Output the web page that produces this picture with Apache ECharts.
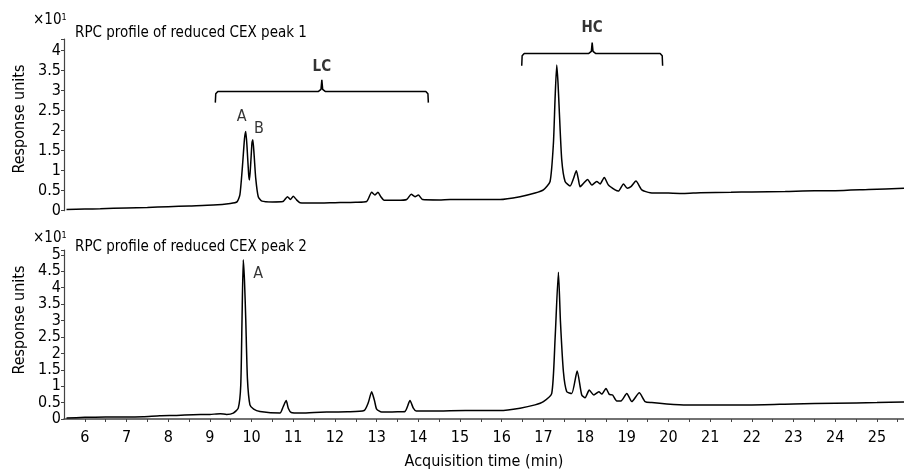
<!DOCTYPE html>
<html><head><meta charset="utf-8">
<script src="https://cdn.jsdelivr.net/npm/echarts@6/dist/echarts.min.js"></script>
<style>html,body{margin:0;padding:0;background:#fff}#c{width:904px;height:471px}</style>
</head><body><div id="c"></div>
<script>
// Top trace: RPC profile of reduced CEX peak 1 (x: min, y: response ×10^1)
const topX = [5.56,6.0,6.37,7.0,7.5,8.0,8.5,9.08,9.49,9.65,9.72,9.78,9.83,9.86,9.89,9.93,9.95,9.98,10.01,10.03,10.06,10.1,10.16,10.25,10.5,10.75,10.86,10.93,11.0,11.08,11.16,11.5,12.0,12.5,12.76,12.88,12.96,13.03,13.1,13.18,13.5,13.72,13.83,13.92,14.0,14.1,14.5,14.76,15.2,15.96,16.44,16.8,17.0,17.16,17.24,17.28,17.32,17.35,17.38,17.44,17.52,17.64,17.72,17.79,17.84,17.88,17.96,18.06,18.16,18.28,18.36,18.46,18.56,18.72,18.8,18.92,19.01,19.1,19.22,19.36,19.56,20.0,20.36,20.76,21.5,22.0,22.8,23.5,24.0,24.8,25.65];
const topY = [0.03,0.04,0.05,0.07,0.08,0.10,0.12,0.14,0.18,0.22,0.4,1.1,1.8,1.98,1.6,0.9,0.77,1.2,1.7,1.77,1.4,0.8,0.35,0.24,0.22,0.23,0.35,0.28,0.36,0.27,0.2,0.19,0.2,0.21,0.23,0.46,0.39,0.46,0.35,0.26,0.26,0.28,0.41,0.35,0.39,0.28,0.27,0.28,0.28,0.28,0.35,0.44,0.52,0.73,1.68,2.8,3.64,3.2,2.52,1.27,0.73,0.62,0.8,1.0,0.78,0.6,0.68,0.78,0.64,0.73,0.67,0.83,0.64,0.52,0.49,0.67,0.56,0.6,0.74,0.52,0.45,0.44,0.43,0.45,0.46,0.47,0.48,0.5,0.5,0.53,0.56];
// Bottom trace: RPC profile of reduced CEX peak 2
const botX = [5.56,6.0,6.5,7.0,7.4,7.8,8.2,8.6,9.0,9.25,9.4,9.56,9.68,9.74,9.77,9.8,9.83,9.86,9.9,9.96,10.05,10.2,10.68,10.76,10.83,10.88,10.95,11.16,11.5,11.8,12.3,12.7,12.8,12.88,12.95,13.0,13.12,13.5,13.68,13.8,13.88,13.95,14.3,14.76,15.5,15.96,16.44,16.8,17.0,17.2,17.28,17.36,17.41,17.48,17.56,17.68,17.81,17.92,18.0,18.1,18.21,18.33,18.4,18.5,18.58,18.66,18.76,18.86,19.0,19.12,19.3,19.44,19.6,19.96,20.44,21.0,21.96,23.0,24.0,25.0,25.65];
const botY = [0.03,0.05,0.06,0.06,0.07,0.1,0.11,0.13,0.14,0.16,0.14,0.18,0.33,1.03,3.0,4.85,4.2,3.04,1.23,0.43,0.3,0.23,0.18,0.38,0.56,0.33,0.2,0.18,0.2,0.21,0.22,0.26,0.5,0.83,0.55,0.3,0.21,0.22,0.23,0.56,0.33,0.24,0.24,0.25,0.26,0.26,0.33,0.43,0.53,0.78,2.44,4.47,2.94,1.44,0.83,0.78,1.46,0.73,0.65,0.88,0.73,0.83,0.76,0.93,0.75,0.73,0.55,0.55,0.78,0.53,0.8,0.53,0.5,0.46,0.43,0.43,0.43,0.46,0.48,0.5,0.52];
// Annotations
const xTickLabels = [6,7,8,9,10,11,12,13,14,15,16,17,18,19,20,21,22,23,24,25];
const lcRange = [9.13, 14.24];
const hcRange = [16.48, 19.86];
const topPeakLabels = [['A', 9.86, 1.98], ['B', 10.03, 1.77]];
const botPeakLabels = [['A', 9.8, 4.85]];

const FONT = "'Liberation Sans Narrow','DejaVu Sans Condensed','Roboto Condensed',sans-serif";
const zip = (xs, ys) => xs.map((x, i) => [x, ys[i]]);

function bracket(r, yBar, yEnd, yTip) {
  const mid = (r[0] + r[1]) / 2;
  const d = 0.08;
  return [[r[0], yEnd], [r[0] + 0.01, yBar - 0.06], [r[0] + 0.06, yBar], [mid - d, yBar], [mid - 0.02, yBar + 0.05], [mid, yTip], [mid + 0.02, yBar + 0.05], [mid + d, yBar], [r[1] - 0.06, yBar], [r[1] - 0.01, yBar - 0.06], [r[1], yEnd]];
}

const chart = echarts.init(document.getElementById('c'));
const axisCommonX = { type: 'value', min: 5.5, max: 25.65, interval: 0.5 };
const yLabel = { fontFamily: FONT, fontSize: 16, color: '#000', margin: 3,
  formatter: v => (Math.abs(v * 2 - Math.round(v * 2)) < 1e-6 ? String(v) : '') };
const lineCol = '#444';

const option = {
  animation: false,
  grid: [
    { left: 64, right: 0, top: 39, height: 171.7 },
    { left: 64, right: 0, top: 250, height: 171 }
  ],
  xAxis: [
    Object.assign({ gridIndex: 0, show: false }, axisCommonX),
    Object.assign({ gridIndex: 1, offset: 5,
      axisLine: { show: true, lineStyle: { color: lineCol, width: 1.5 } },
      axisTick: { show: true, length: 3, lineStyle: { color: lineCol } },
      splitLine: { show: false },
      axisLabel: { fontFamily: FONT, fontSize: 16, color: '#000', margin: 6,
        showMinLabel: false, showMaxLabel: false,
        formatter: v => (xTickLabels.indexOf(Math.round(v * 100) / 100) >= 0 ? String(v) : '') },
      name: 'Acquisition time (min)', nameLocation: 'middle', nameGap: 30,
      nameTextStyle: { fontFamily: FONT, fontSize: 16, color: '#000' }
    }, axisCommonX)
  ],
  yAxis: [
    { gridIndex: 0, type: 'value', min: 0, max: 4.29, interval: 0.5,
      axisLine: { show: true, lineStyle: { color: lineCol, width: 1.2 } },
      axisTick: { show: true, length: 3, lineStyle: { color: lineCol } },
      splitLine: { show: false }, axisLabel: yLabel },
    { gridIndex: 1, type: 'value', min: 0, max: 5.15, interval: 0.5,
      axisLine: { show: true, lineStyle: { color: lineCol, width: 1.2 } },
      axisTick: { show: true, length: 3, lineStyle: { color: lineCol } },
      splitLine: { show: false }, axisLabel: yLabel }
  ],
  series: [
    { type: 'line', xAxisIndex: 0, yAxisIndex: 0, data: zip(topX, topY), showSymbol: false, smooth: 0.2,
      lineStyle: { color: '#000', width: 1.5 }, clip: false },
    { type: 'line', xAxisIndex: 1, yAxisIndex: 1, data: zip(botX, botY), showSymbol: false, smooth: 0.2,
      lineStyle: { color: '#000', width: 1.5 }, clip: false },
    { type: 'line', xAxisIndex: 0, yAxisIndex: 0, data: bracket(lcRange, 2.98, 2.7, 3.27), showSymbol: false,
      lineStyle: { color: '#000', width: 1.5 }, clip: false },
    { type: 'line', xAxisIndex: 0, yAxisIndex: 0, data: bracket(hcRange, 3.93, 3.62, 4.2), showSymbol: false,
      lineStyle: { color: '#000', width: 1.5 }, clip: false },
    { type: 'scatter', xAxisIndex: 0, yAxisIndex: 0, symbolSize: 0, clip: false,
      data: [[(lcRange[0] + lcRange[1]) / 2, 3.6, 'LC'], [(hcRange[0] + hcRange[1]) / 2, 4.56, 'HC']],
      label: { show: true, position: 'inside', formatter: p => p.data[2],
        fontFamily: FONT, fontSize: 15, fontWeight: 'bold', color: '#000' } },
    { type: 'scatter', xAxisIndex: 0, yAxisIndex: 0, symbolSize: 0, clip: false,
      data: topPeakLabels.map(d => [d[1], d[2], d[0]]),
      label: { show: true, position: 'inside', formatter: p => p.data[2],
        fontFamily: FONT, fontSize: 16, color: '#000' },
      labelLayout: p => ({ dx: p.dataIndex === 0 ? -4 : 6, dy: p.dataIndex === 0 ? -15 : -11 }) },
    { type: 'scatter', xAxisIndex: 1, yAxisIndex: 1, symbolSize: 0, clip: false,
      data: botPeakLabels.map(d => [d[1], d[2], d[0]]),
      label: { show: true, position: 'inside', formatter: p => p.data[2],
        fontFamily: FONT, fontSize: 16, color: '#000' },
      labelLayout: () => ({ dx: 15, dy: 14 }) }
  ],
  graphic: [
    { type: 'text', left: 75, top: 26, style: { text: 'RPC profile of reduced CEX peak 1', fontFamily: FONT, fontSize: 15, fill: '#000' } },
    { type: 'text', left: 75, top: 240, style: { text: 'RPC profile of reduced CEX peak 2', fontFamily: FONT, fontSize: 15, fill: '#000' } },
    { type: 'text', left: 33, top: 13, style: { text: '×10{s|1}', fontFamily: FONT, fontSize: 15, fill: '#000',
      rich: { s: { fontSize: 9, verticalAlign: 'top', padding: [0, 0, 6, 0], fontFamily: FONT } } } },
    { type: 'text', left: 33, top: 231, style: { text: '×10{s|1}', fontFamily: FONT, fontSize: 15, fill: '#000',
      rich: { s: { fontSize: 9, verticalAlign: 'top', padding: [0, 0, 6, 0], fontFamily: FONT } } } },
    { type: 'text', x: 20, y: 119, rotation: Math.PI / 2, style: { text: 'Response units', fontFamily: FONT, fontSize: 16, fill: '#000', align: 'center', verticalAlign: 'middle' } },
    { type: 'text', x: 20, y: 320, rotation: Math.PI / 2, style: { text: 'Response units', fontFamily: FONT, fontSize: 16, fill: '#000', align: 'center', verticalAlign: 'middle' } }
  ]
};
chart.setOption(option);
</script>
</body></html>
